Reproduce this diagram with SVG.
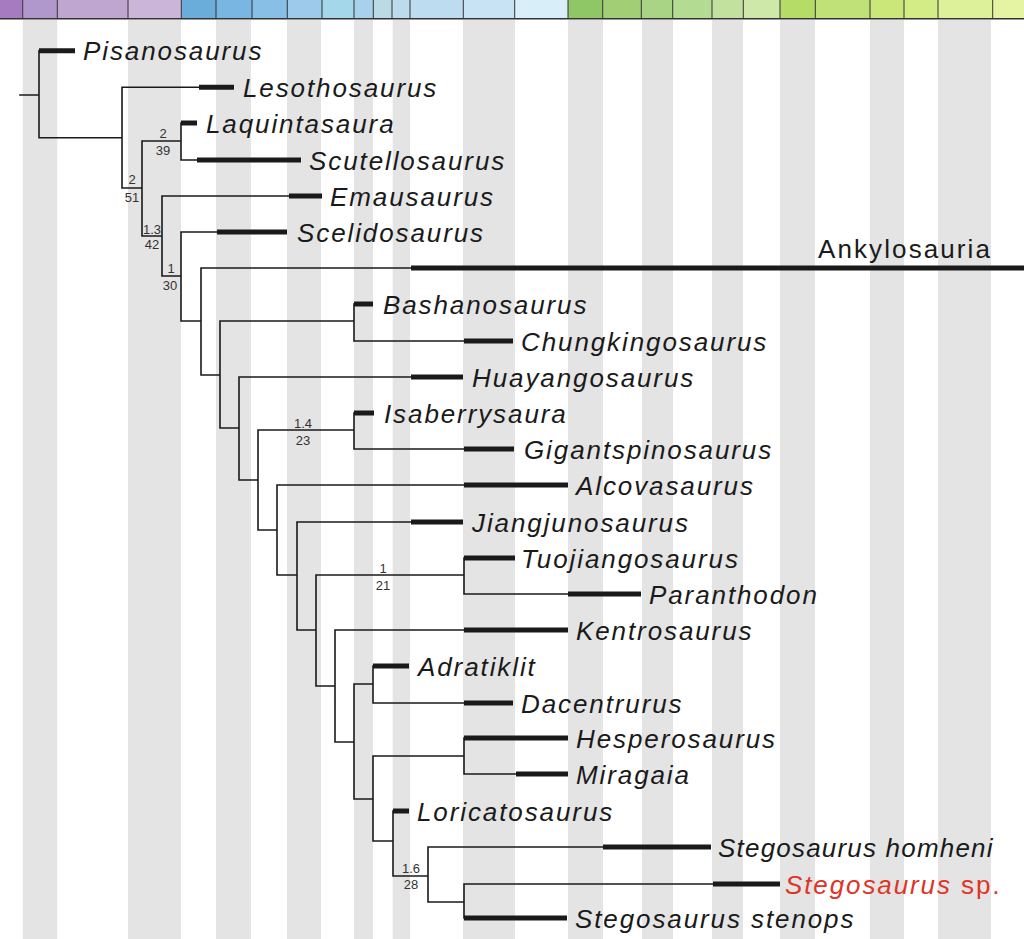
<svg xmlns="http://www.w3.org/2000/svg" width="1024" height="939" viewBox="0 0 1024 939">
<style>
.st{fill:#e4e4e4}
.tn{fill:none;stroke:#1a1a1a;stroke-width:1.6;stroke-linecap:square}
.tk{fill:none;stroke:#1a1a1a;stroke-width:5}
.tx{font-family:"Liberation Sans",Arial,sans-serif;font-style:italic;font-size:26px;letter-spacing:1.9px;fill:#1a1a1a}
.up{font-style:normal;letter-spacing:2.1px}
.sp{font-family:"Liberation Sans",Arial,sans-serif;font-size:13px;fill:#333;text-anchor:middle}
.sep{stroke:#333;stroke-width:1}
</style>
<rect width="1024" height="939" fill="#fff"/>
<g id="stripes">
<rect class="st" x="22.7" y="20" width="34.6" height="919"/>
<rect class="st" x="128" y="20" width="53" height="919"/>
<rect class="st" x="216" y="20" width="35" height="919"/>
<rect class="st" x="287" y="20" width="34" height="919"/>
<rect class="st" x="354" y="20" width="19" height="919"/>
<rect class="st" x="392.7" y="20" width="17.3" height="919"/>
<rect class="st" x="463" y="20" width="52" height="919"/>
<rect class="st" x="568" y="20" width="35" height="919"/>
<rect class="st" x="642" y="20" width="31" height="919"/>
<rect class="st" x="712" y="20" width="31" height="919"/>
<rect class="st" x="780" y="20" width="35" height="919"/>
<rect class="st" x="870" y="20" width="34" height="919"/>
<rect class="st" x="938" y="20" width="53" height="919"/>
</g>
<g id="timescale">
<rect x="0" y="0" width="22.7" height="18.5" fill="#a67bbf"/>
<rect x="22.7" y="0" width="34.6" height="18.5" fill="#b097cc"/>
<rect x="57.3" y="0" width="70.7" height="18.5" fill="#bfa6d0"/>
<rect x="128" y="0" width="53.3" height="18.5" fill="#cbb5d8"/>
<rect x="181.3" y="0" width="34.7" height="18.5" fill="#6badda"/>
<rect x="216" y="0" width="36" height="18.5" fill="#79b6e2"/>
<rect x="252" y="0" width="35.3" height="18.5" fill="#88bfe6"/>
<rect x="287.3" y="0" width="34.7" height="18.5" fill="#9dc9ea"/>
<rect x="322" y="0" width="32" height="18.5" fill="#a4d7ea"/>
<rect x="354" y="0" width="19.3" height="18.5" fill="#a8d1ee"/>
<rect x="373.3" y="0" width="18.7" height="18.5" fill="#bcd9e6"/>
<rect x="392" y="0" width="18" height="18.5" fill="#bcdcee"/>
<rect x="410" y="0" width="53.3" height="18.5" fill="#bddcf0"/>
<rect x="463.3" y="0" width="51.4" height="18.5" fill="#c8e3f3"/>
<rect x="514.7" y="0" width="53.3" height="18.5" fill="#d8eef9"/>
<rect x="568" y="0" width="34.7" height="18.5" fill="#8fc767"/>
<rect x="602.7" y="0" width="38.6" height="18.5" fill="#a2cf76"/>
<rect x="641.3" y="0" width="31.4" height="18.5" fill="#a9d486"/>
<rect x="672.7" y="0" width="39.3" height="18.5" fill="#b4db92"/>
<rect x="712" y="0" width="31.3" height="18.5" fill="#c2e19e"/>
<rect x="743.3" y="0" width="36.7" height="18.5" fill="#cee8aa"/>
<rect x="780" y="0" width="35.3" height="18.5" fill="#b4dc66"/>
<rect x="815.3" y="0" width="54.7" height="18.5" fill="#c0e177"/>
<rect x="870" y="0" width="34" height="18.5" fill="#cbe779"/>
<rect x="904" y="0" width="34" height="18.5" fill="#d4ec86"/>
<rect x="938" y="0" width="54.7" height="18.5" fill="#dcf199"/>
<rect x="992.7" y="0" width="31.3" height="18.5" fill="#e4f4a2"/>
<path class="sep" d="M22.7,0V18.5M57.3,0V18.5M128,0V18.5M181.3,0V18.5M216,0V18.5M252,0V18.5M287.3,0V18.5M322,0V18.5M354,0V18.5M373.3,0V18.5M392,0V18.5M410,0V18.5M463.3,0V18.5M514.7,0V18.5M568,0V18.5M602.7,0V18.5M641.3,0V18.5M672.7,0V18.5M712,0V18.5M743.3,0V18.5M780,0V18.5M815.3,0V18.5M870,0V18.5M904,0V18.5M938,0V18.5M992.7,0V18.5"/>
<path d="M0,18.8H1024" stroke="#333" stroke-width="1.6"/>
</g>
<g id="connectors">
<path class="tn" d="M20,95H39M39,50.7V137.7H122M122,87.3V188H142M122,87.3H199M142,141V236M142,141H181M181,123V160H197M142,236H162M162,196V276H181M162,196H289M181,232V321H201M181,232H217M201,268V375H220M201,268H411M220,321V428H239M220,321H354M354,304V341H464M239,377V480H258M239,377H411M258,430V530H277M258,430H354M354,413V449H464M277,485V575H297M277,485H464M297,522V630H316M297,522H411M316,575V686H335M316,575H464M464,558V594H568M335,630V742H354M335,630H464M354,684V799H373M354,684H373M373,666V703H464M373,756V841H393M373,756H464M464,738V774H516M393,811V876H428M428,847V902H464M428,847H603M464,884V918M464,884H713"/>
</g>
<g id="support">
<text class="sp" x="163" y="138">2</text><text class="sp" x="163" y="155">39</text>
<text class="sp" x="132" y="184">2</text><text class="sp" x="132" y="201.5">51</text>
<text class="sp" x="152" y="234">1.3</text><text class="sp" x="152" y="249">42</text>
<text class="sp" x="171" y="273">1</text><text class="sp" x="170" y="290">30</text>
<text class="sp" x="303" y="428">1.4</text><text class="sp" x="303" y="445">23</text>
<text class="sp" x="383" y="572.5">1</text><text class="sp" x="383" y="590">21</text>
<text class="sp" x="411" y="873">1.6</text><text class="sp" x="411" y="889">28</text>
</g>
<g id="pisanosaurus"><path class="tk" d="M39,50.7H75"/><text class="tx" x="83" y="60">Pisanosaurus</text></g>
<g id="lesothosaurus"><path class="tk" d="M199,87.3H234"/><text class="tx" x="243" y="96.5">Lesothosaurus</text></g>
<g id="laquintasaura"><path class="tk" d="M181,123H197"/><text class="tx" x="206" y="132.5">Laquintasaura</text></g>
<g id="scutellosaurus"><path class="tk" d="M197,160H301"/><text class="tx" x="309" y="169.5">Scutellosaurus</text></g>
<g id="emausaurus"><path class="tk" d="M289,196H322"/><text class="tx" x="330" y="205.5">Emausaurus</text></g>
<g id="scelidosaurus"><path class="tk" d="M217,232H287"/><text class="tx" x="297" y="241.5">Scelidosaurus</text></g>
<g id="ankylosauria"><path class="tk" d="M411,268H1024"/><text class="tx up" x="818" y="258">Ankylosauria</text></g>
<g id="bashanosaurus"><path class="tk" d="M354,304H373"/><text class="tx" x="383" y="314">Bashanosaurus</text></g>
<g id="chungkingosaurus"><path class="tk" d="M464,341H513"/><text class="tx" x="521" y="350.5">Chungkingosaurus</text></g>
<g id="huayangosaurus"><path class="tk" d="M411,377H463"/><text class="tx" x="472" y="386.5">Huayangosaurus</text></g>
<g id="isaberrysaura"><path class="tk" d="M354,413H374"/><text class="tx" x="384" y="422.5">Isaberrysaura</text></g>
<g id="gigantspinosaurus"><path class="tk" d="M464,449H514"/><text class="tx" x="524" y="458.5">Gigantspinosaurus</text></g>
<g id="alcovasaurus"><path class="tk" d="M464,485H568"/><text class="tx" x="576" y="494.5">Alcovasaurus</text></g>
<g id="jiangjunosaurus"><path class="tk" d="M411,522H463"/><text class="tx" x="472" y="531.5">Jiangjunosaurus</text></g>
<g id="tuojiangosaurus"><path class="tk" d="M464,558H515"/><text class="tx" x="521" y="567.5">Tuojiangosaurus</text></g>
<g id="paranthodon"><path class="tk" d="M568,594H641"/><text class="tx" x="649" y="603.5">Paranthodon</text></g>
<g id="kentrosaurus"><path class="tk" d="M464,630H568"/><text class="tx" x="576" y="639.5">Kentrosaurus</text></g>
<g id="adratiklit"><path class="tk" d="M373,666H409"/><text class="tx" x="418" y="675.5">Adratiklit</text></g>
<g id="dacentrurus"><path class="tk" d="M464,703H513"/><text class="tx" x="521" y="712.5">Dacentrurus</text></g>
<g id="hesperosaurus"><path class="tk" d="M464,738H568"/><text class="tx" x="576" y="747.5">Hesperosaurus</text></g>
<g id="miragaia"><path class="tk" d="M516,774H568"/><text class="tx" x="576" y="783.5">Miragaia</text></g>
<g id="loricatosaurus"><path class="tk" d="M393,811H409"/><text class="tx" x="417" y="820.5">Loricatosaurus</text></g>
<g id="stegosaurus-homheni"><path class="tk" d="M603,847H711"/><text class="tx" x="718" y="856.5" style="letter-spacing:1.2px">Stegosaurus homheni</text></g>
<g id="stegosaurus-sp"><path class="tk" d="M713,884H780"/><text class="tx" x="785" y="893.5" style="fill:#e03426">Stegosaurus<tspan font-style="normal"> sp.</tspan></text></g>
<g id="stegosaurus-stenops"><path class="tk" d="M464,918H567"/><text class="tx" x="575" y="927.5">Stegosaurus stenops</text></g>
</svg>
